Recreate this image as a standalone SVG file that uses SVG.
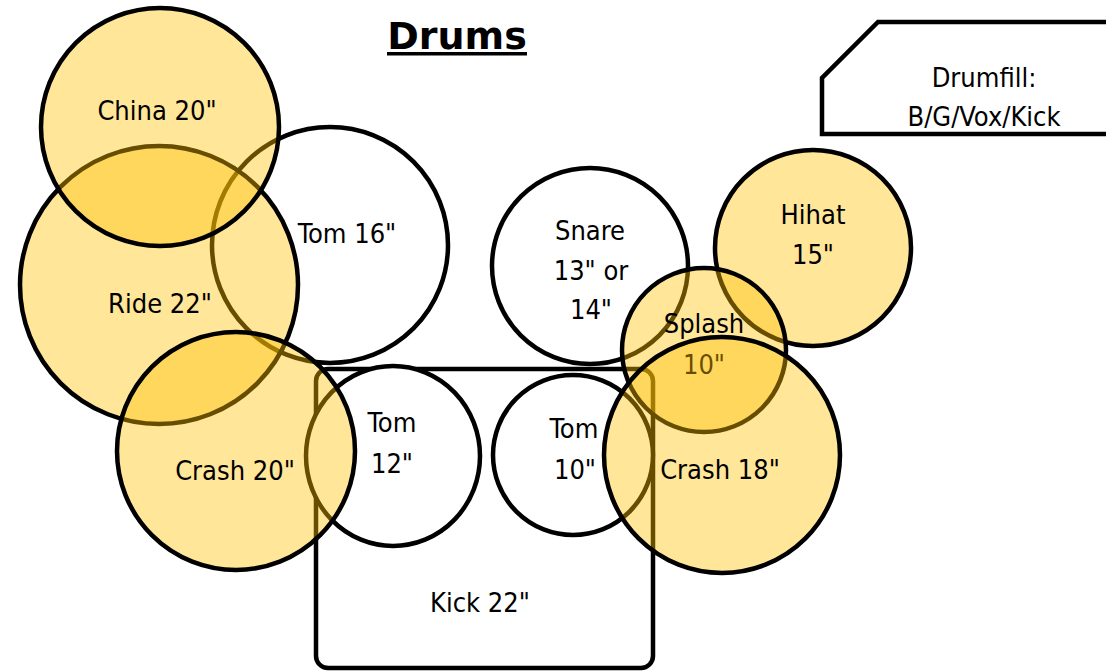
<svg xmlns="http://www.w3.org/2000/svg" width="1106" height="672" viewBox="0 0 1106 672">
<style>
.t{font-family:"DejaVu Sans Condensed","DejaVu Sans",Verdana,sans-serif;font-stretch:condensed;font-size:27px;fill:#000;text-anchor:middle}
.title{font-family:"DejaVu Sans",Verdana,sans-serif;font-size:38px;font-weight:bold;fill:#000;text-anchor:middle}
.drum{fill:#fff;stroke:#000;stroke-width:4.5}
.cym{fill:#FFC000;fill-opacity:0.4;stroke:#000;stroke-width:4.5}
</style>
<rect width="1106" height="672" fill="#fff"/>
<g id="title">
<text class="title" x="457" y="49">Drums</text>
<rect x="387" y="52" width="140" height="3.5" fill="#000"/>
</g>
<g id="drumfill">
<path class="drum" d="M1112,22 H878 L822,78 V134 H1112"/>
<text class="t" x="984" y="87">Drumfill:</text>
<text class="t" x="984" y="126">B/G/Vox/Kick</text>
</g>
<g id="connectors"></g>
<g id="kick">
<rect class="drum" x="316" y="369" width="337" height="299" rx="12"/>
<text class="t" x="480" y="612">Kick 22"</text>
</g>
<g id="tom16">
<circle class="drum" cx="330" cy="245" r="118"/>
<text class="t" x="347" y="243">Tom 16"</text>
</g>
<g id="snare">
<circle class="drum" cx="590" cy="266" r="98"/>
<text class="t" x="590" y="240">Snare</text>
<text class="t" x="591" y="280">13" or</text>
<text class="t" x="591" y="319">14"</text>
</g>
<g id="tom12">
<ellipse class="drum" cx="393" cy="456" rx="87" ry="90"/>
<text class="t" x="392" y="432">Tom</text>
<text class="t" x="392" y="473">12"</text>
</g>
<g id="tom10">
<circle class="drum" cx="573" cy="455" r="80"/>
<text class="t" x="574" y="438">Tom</text>
<text class="t" x="575" y="479">10"</text>
</g>
<g id="ride">
<circle class="cym" cx="159" cy="285" r="139"/>
<text class="t" x="160" y="313">Ride 22"</text>
</g>
<g id="china">
<circle class="cym" cx="160" cy="127" r="119"/>
<text class="t" x="157" y="120">China 20"</text>
</g>
<g id="hihat">
<circle class="cym" cx="813" cy="248" r="98"/>
<text class="t" x="813" y="224">Hihat</text>
<text class="t" x="813" y="264">15"</text>
</g>
<g id="splash">
<circle class="cym" cx="704" cy="350" r="82"/>
<text class="t" x="704" y="333">Splash</text>
<text class="t" x="704" y="374">10"</text>
</g>
<g id="crash20">
<circle class="cym" cx="236" cy="451" r="119"/>
<text class="t" x="235" y="480">Crash 20"</text>
</g>
<g id="crash18">
<circle class="cym" cx="722" cy="455" r="118"/>
<text class="t" x="720" y="479">Crash 18"</text>
</g>
</svg>
